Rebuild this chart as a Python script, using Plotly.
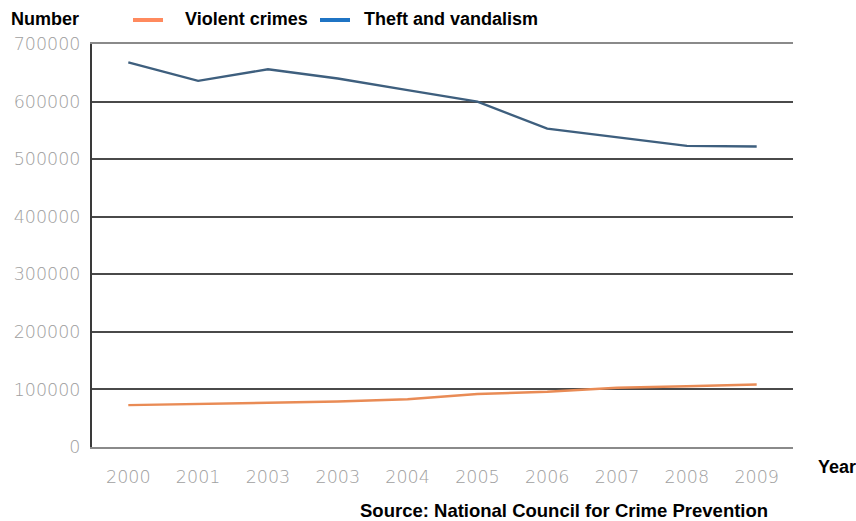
import plotly.graph_objects as go

years = ["2000", "2001", "2003", "2003", "2004", "2005", "2006", "2007", "2008", "2009"]
violent = [72700, 74500, 76500, 79000, 83000, 92000, 96000, 103000, 105500, 108500]
theft = [668000, 636000, 656000, 640000, 620000, 600000, 553000, 538000, 523000, 522000]
y_ticks = [0, 100000, 200000, 300000, 400000, 500000, 600000, 700000]
series_names = ["Violent crimes", "Theft and vandalism"]
line_colors = ["#E98B55", "#3E5F7E"]
legend_colors = ["#FF8A5E", "#1F74C4"]

x_idx = list(range(len(years)))

W, H = 856, 521
L, T = 92, 44
R, B = W - 793, H - 447
PW, PH = W - L - R, H - T - B


def px(xr):  # reference pixel x -> paper x
    return (xr - L) / PW


def py(yr):  # reference pixel y -> paper y
    return ((H - B) - yr) / PH


fig = go.Figure()
for name, vals, lc in zip(series_names, [violent, theft], line_colors):
    fig.add_trace(go.Scatter(x=x_idx, y=vals, mode="lines", name=name, showlegend=False,
                             line=dict(color=lc, width=2.4)))

bold = dict(family="Liberation Sans, Arial, sans-serif", size=18, color="#000")
tickfont = dict(family="DejaVu Sans, sans-serif", size=17.5, color="#a0a0a0", weight=200)

# legend drawn as key lines + labels
key_x = [133, 320]
text_x = [183, 362]
shapes = []
annotations = []
for name, c, kx, tx in zip(series_names, legend_colors, key_x, text_x):
    shapes.append(dict(type="line", xref="paper", yref="paper", x0=px(kx), x1=px(kx + 30),
                       y0=py(20), y1=py(20), line=dict(color=c, width=4)))
    annotations.append(dict(text="<b>" + name + "</b>", xref="paper", yref="paper",
                            x=px(tx), y=py(19), xanchor="left", yanchor="middle",
                            showarrow=False, font=bold))

annotations += [
    dict(text="<b>Number</b>", xref="paper", yref="paper", x=px(9), y=py(19),
         xanchor="left", yanchor="middle", showarrow=False, font=bold),
    dict(text="<b>Year</b>", xref="paper", yref="paper", x=px(816), y=py(467),
         xanchor="left", yanchor="middle", showarrow=False, font=bold),
    dict(text="<b>Source: National Council for Crime Prevention</b>", xref="paper", yref="paper",
         x=px(358), y=py(510), xanchor="left", yanchor="middle", showarrow=False,
         font=dict(bold, size=18.5)),
]

fig.update_layout(
    width=W, height=H,
    margin=dict(l=L, r=R, t=T, b=B, autoexpand=False),
    plot_bgcolor="white", paper_bgcolor="white",
    font=dict(family="Liberation Sans, Arial, sans-serif", size=13, color="#000"),
    showlegend=False,
    xaxis=dict(range=[-0.52, 9.52], tickmode="array", tickvals=x_idx, ticktext=years,
               showgrid=False, zeroline=False, showline=True, mirror=True,
               linecolor="#8a8a8a", linewidth=2, ticks="",
               tickfont=tickfont, ticklabelstandoff=13, automargin=False, fixedrange=True),
    yaxis=dict(range=[0, 700000], tickmode="array", tickvals=y_ticks,
               ticktext=[str(v) for v in y_ticks],
               showgrid=True, gridcolor="#4a4a4a", gridwidth=2,
               zeroline=False,
               showline=True, linecolor="#3a3a3a", linewidth=2, ticks="",
               tickfont=tickfont, ticklabelstandoff=6, automargin=False, fixedrange=True),
    shapes=shapes,
    annotations=annotations,
)

fig.write_html(
    "out.html",
    config={"displayModeBar": False, "staticPlot": True},
    post_script="document.body.style.margin='0';document.body.style.overflow='hidden';",
)
